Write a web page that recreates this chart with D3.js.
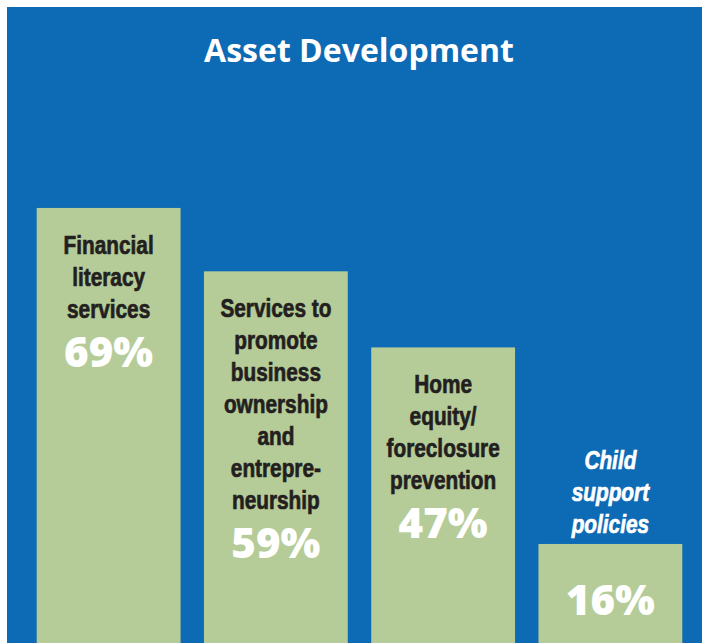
<!DOCTYPE html>
<html><head><meta charset="utf-8">
<script src="https://cdn.jsdelivr.net/npm/d3@7/dist/d3.min.js"></script>
<style>html,body{margin:0;padding:0;background:#fff;}svg{display:block;}</style>
</head><body>
<svg id="c" width="702" height="643"></svg>
<script>
const title = "Asset Development";
const categories = ["Financial literacy services", "Services to promote business ownership and entrepreneurship", "Home equity/ foreclosure prevention", "Child support policies"];
const labelLines = [
  ["Financial", "literacy", "services"],
  ["Services to", "promote", "business", "ownership", "and", "entrepre-", "neurship"],
  ["Home", "equity/", "foreclosure", "prevention"],
  ["Child", "support", "policies"]
];
const values = [69, 59, 47, 16];
const labelsInside = [true, true, true, false];

const W = 702, H = 643;
const svg = d3.select("#c");
const blue = "#0d6ab4", green = "#b5cc98", dark = "#231f20";

svg.append("rect").attr("x", 7).attr("y", 7).attr("width", W - 7).attr("height", H - 7).attr("fill", blue);

svg.append("text").attr("x", 359).attr("y", 62).attr("text-anchor", "middle")
  .attr("fill", "#fff").attr("font-family", "'Open Sans', sans-serif").attr("font-weight", 700)
  .attr("font-size", 32).text(title);

const x = d3.scaleBand().domain(categories).range([25, 694]).paddingInner(0.14).paddingOuter(0.07);
const y = d3.scaleLinear().domain([0, 100]).range([645.4, 11.4]);

const g = svg.selectAll("g.bar").data(categories).join("g").attr("class", "bar");
g.append("rect")
  .attr("x", d => x(d)).attr("width", x.bandwidth())
  .attr("y", (d, i) => y(values[i])).attr("height", (d, i) => y(0) - y(values[i]))
  .attr("fill", green);

const lineH = 32;
g.each(function(d, i) {
  const sel = d3.select(this);
  const cx = x(d) + x.bandwidth() / 2;
  const top = y(values[i]);
  const lines = labelLines[i];
  let first, pctY;
  if (labelsInside[i]) {
    first = top + 46;
    pctY = first + (lines.length - 1) * lineH + 49;
  } else {
    first = top - 11 - (lines.length - 1) * lineH;
    pctY = top + 71;
  }
  const col = labelsInside[i] ? dark : "#fff";
  const t = sel.append("text").attr("text-anchor", "middle")
    .attr("transform", `translate(${cx},0) scale(0.8,1)`)
    .attr("font-family", "'Liberation Sans', Arial, sans-serif")
    .attr("font-weight", 700).attr("font-size", 26)
    .attr("font-style", labelsInside[i] ? "normal" : "italic")
    .attr("fill", col).attr("stroke", col).attr("stroke-width", 0.7);
  lines.forEach((l, k) => t.append("tspan").attr("x", 0).attr("y", first + k * lineH).text(l));
  sel.append("text").attr("x", cx).attr("y", pctY).attr("text-anchor", "middle")
    .attr("font-family", "'Open Sans', sans-serif").attr("font-weight", 800)
    .attr("font-size", 42).attr("fill", "#fff").text(values[i] + "%");
});
</script>
</body></html>
